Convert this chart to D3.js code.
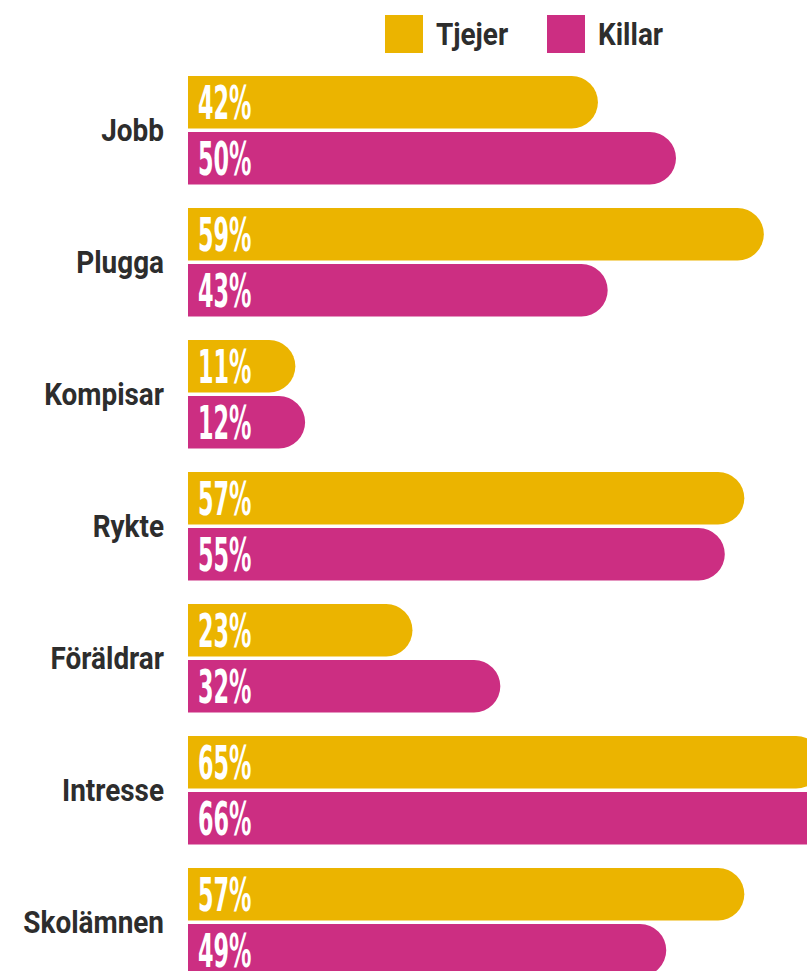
<!DOCTYPE html>
<html>
<head>
<meta charset="utf-8">
<script src="https://cdn.jsdelivr.net/npm/d3@7"></script>
<style>
  body { margin: 0; background: #fff; overflow: hidden; }
  svg { display: block; }
</style>
</head>
<body>
<svg id="chart" width="807" height="971"></svg>
<script>
// data
var categories = ["Jobb", "Plugga", "Kompisar", "Rykte", "Föräldrar", "Intresse", "Skolämnen"];
var series = ["Tjejer", "Killar"];
var tjejer = [42, 59, 11, 57, 23, 65, 57];
var killar = [50, 43, 12, 55, 32, 66, 49];
var colors = ["#ebb400", "#cc2e82"];

var svg = d3.select("#chart");

var rows = categories.map(function(c, i){
  return {cat: c, values: [tjejer[i], killar[i]]};
});

var xScale = d3.scaleLinear().domain([0, 100]).range([188, 1164]);

var yScale = d3.scaleBand()
  .domain(categories)
  .range([76, 976.5])
  .paddingInner(0.178);

var ySub = d3.scaleBand()
  .domain(series)
  .range([0, yScale.bandwidth()])
  .paddingInner(0.0625);

var color = d3.scaleOrdinal().domain(series).range(colors);

// bar with a rounded right end
function roundedBar(x0, x1, y, h){
  var r = Math.min(h / 2, x1 - x0);
  return "M" + x0 + "," + y +
    "H" + (x1 - r) +
    "A" + r + "," + r + " 0 0 1 " + x1 + "," + (y + r) +
    "V" + (y + h - r) +
    "A" + r + "," + r + " 0 0 1 " + (x1 - r) + "," + (y + h) +
    "H" + x0 + "Z";
}

var groups = svg.selectAll(".group")
  .data(rows)
  .enter().append("g")
  .attr("class", "group")
  .attr("transform", function(d){ return "translate(0," + yScale(d.cat) + ")"; });

// category labels
groups.append("text")
  .attr("transform", "translate(164," + (yScale.bandwidth() / 2) + ") scale(0.9,1)")
  .attr("text-anchor", "end")
  .attr("dy", "0.36em")
  .style("font-family", "Roboto, sans-serif")
  .style("font-weight", "bold")
  .style("font-size", "31px")
  .style("fill", "#2d2d2d")
  .text(function(d){ return d.cat; });

var bars = groups.selectAll(".bar")
  .data(function(d){
    return d.values.map(function(v, j){ return {key: series[j], value: v}; });
  })
  .enter().append("g")
  .attr("class", "bar");

bars.append("path")
  .attr("d", function(d){
    return roundedBar(xScale(0), xScale(d.value), ySub(d.key), ySub.bandwidth());
  })
  .style("fill", function(d){ return color(d.key); });

bars.append("text")
  .attr("transform", function(d){
    return "translate(" + (xScale(0) + 10) + "," + (ySub(d.key) + ySub.bandwidth() / 2) + ") scale(0.54,1)";
  })
  .attr("dy", "0.36em")
  .style("font-family", "'Liberation Sans Narrow', 'DejaVu Sans Condensed', sans-serif")
  .style("font-weight", "bold")
  .style("font-size", "46px")
  .style("fill", "#fff")
  .text(function(d){ return d.value + "%"; });

// legend
var legend = svg.append("g").attr("class", "legend");
var legendX = [385, 547];
series.forEach(function(s, i){
  legend.append("rect")
    .attr("x", legendX[i])
    .attr("y", 15)
    .attr("width", 38)
    .attr("height", 38)
    .style("fill", color(s));
  legend.append("text")
    .attr("transform", "translate(" + (legendX[i] + 51) + ",34) scale(0.9,1)")
    .attr("dy", "0.36em")
    .style("font-family", "Roboto, sans-serif")
    .style("font-weight", "bold")
    .style("font-size", "31px")
    .style("fill", "#2d2d2d")
    .text(s);
});
</script>
</body>
</html>
